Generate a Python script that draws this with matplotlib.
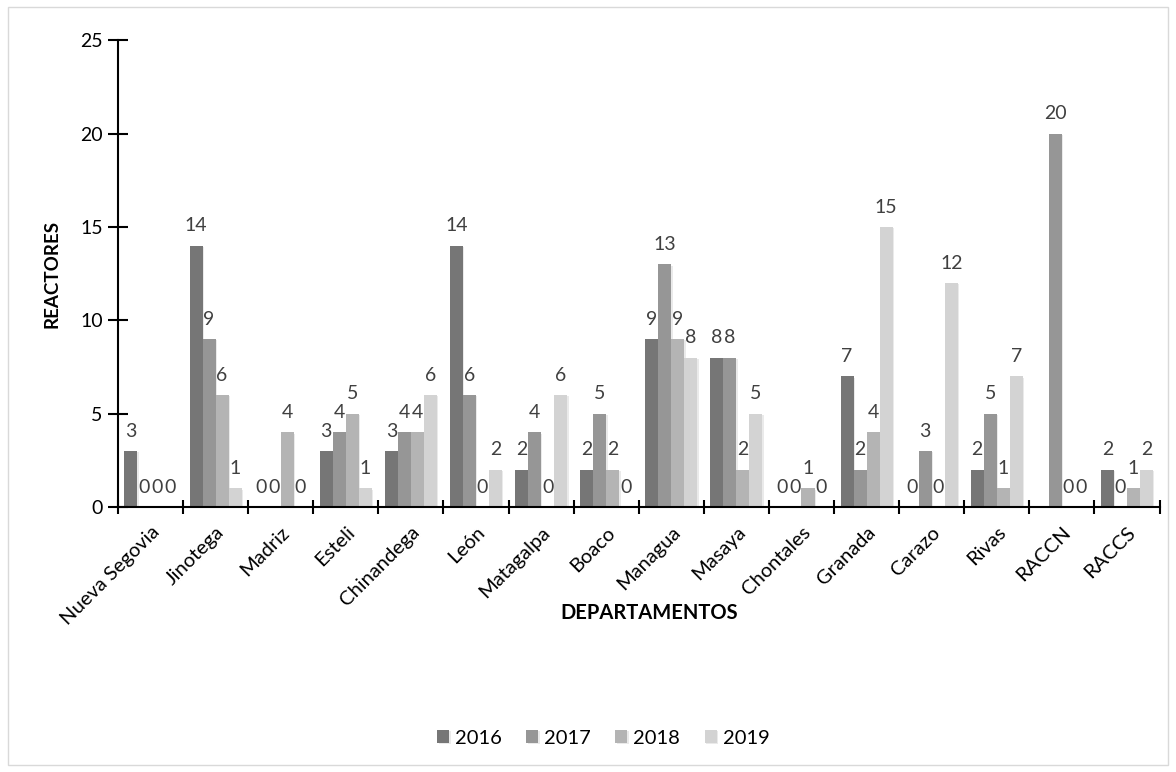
import numpy as np
import matplotlib.pyplot as plt
from matplotlib.patches import Rectangle
import matplotlib.patheffects as pe

plt.rcParams['font.family'] = ['Lato', 'DejaVu Sans']

# Datos
departamentos = ["Nueva Segovia", "Jinotega", "Madriz", "Esteli", "Chinandega", "León",
                 "Matagalpa", "Boaco", "Managua", "Masaya", "Chontales", "Granada",
                 "Carazo", "Rivas", "RACCN", "RACCS"]
anios = ["2016", "2017", "2018", "2019"]
v2016 = [3, 14, 0, 3, 3, 14, 2, 2, 9, 8, 0, 7, 0, 2, np.nan, 2]
v2017 = [0, 9, 0, 4, 4, 6, 4, 5, 13, 8, 0, 2, 3, 5, 20, 0]
v2018 = [0, 6, 4, 5, 4, 0, 0, 2, 9, 2, 1, 4, 0, 1, 0, 1]
v2019 = [0, 1, 0, 1, 6, 2, 6, 0, 8, 5, 0, 15, 12, 7, 0, 2]
series = [v2016, v2017, v2018, v2019]
colores = ["#767676", "#969696", "#b4b4b4", "#d3d3d3"]

fig = plt.figure(figsize=(11.76, 7.72), dpi=100)
ax = fig.add_axes([0.1003, 0.3433, 0.8857, 0.6047])

# borde del grafico
fig.patches.append(Rectangle((0.007, 0.009), 0.986, 0.982, transform=fig.transFigure,
                             fill=False, edgecolor="#d9d9d9", linewidth=1))

x = np.arange(len(departamentos))
ancho = 0.2
sombra = [pe.SimplePatchShadow(offset=(1, -1), shadow_rgbFace="#bbbbbb", alpha=0.3), pe.Normal()]
for i, (vals, col, lab) in enumerate(zip(series, colores, anios)):
    pos = x - 0.3 + i * ancho
    bars = ax.bar(pos, vals, width=ancho, color=col, label=lab)
    for b in bars:
        b.set_path_effects(sombra)
    for p, v in zip(pos, vals):
        if np.isnan(v):
            continue
        ax.text(p, v + 0.6, f"{int(v)}", ha="center", va="bottom", fontsize=14, color="#404040")

ax.set_xlim(-0.5, len(departamentos) - 0.5)
ax.set_ylim(0, 25)
ax.set_yticks(range(0, 26, 5))
ax.set_xticks(np.arange(-0.5, len(departamentos), 1))
ax.set_xticklabels([])
ax.set_xticks(x, minor=True)
ax.set_xticklabels(departamentos, minor=True, rotation=45, ha="right", rotation_mode="anchor", fontsize=14.5)
ax.tick_params(axis="x", which="minor", length=0, pad=12)
ax.tick_params(axis="x", which="major", direction="inout", length=10, width=1.5)
ax.tick_params(axis="y", direction="inout", length=14, width=1.5, labelsize=14, pad=4)

for s in ["top", "right"]:
    ax.spines[s].set_visible(False)
for s in ["left", "bottom"]:
    ax.spines[s].set_linewidth(1.5)

ax.set_ylabel("REACTORES", fontsize=13.5, fontweight="bold", labelpad=14)
fig.text(0.552, 0.206, "DEPARTAMENTOS", fontsize=14.5, fontweight="bold", ha="center", va="center")

ax.legend(loc="center", bbox_to_anchor=(0.513, 0.044), bbox_transform=fig.transFigure, ncol=4,
          frameon=False, fontsize=14.5, handlelength=0.6, handleheight=0.6, columnspacing=1.2,
          handletextpad=0.3)

fig.savefig("out.png", dpi=100)
